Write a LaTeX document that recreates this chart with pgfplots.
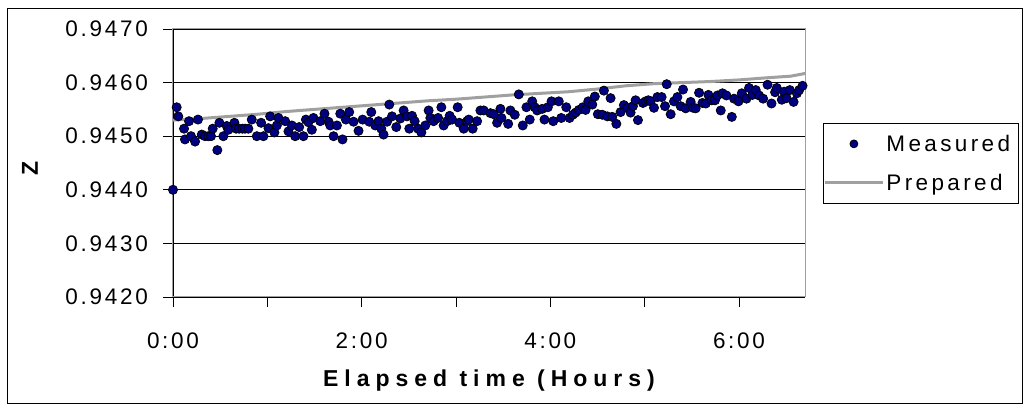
\documentclass[border=0pt]{standalone}
\usepackage{pgfplots}
\pgfplotsset{compat=1.18}
\usepackage{pgfplotstable}
\usepackage{fontspec}
\setmainfont{Liberation Sans}
\newfontfamily\tickfont[LetterSpace=12]{Liberation Sans}
\newfontfamily\legfont[LetterSpace=15]{Liberation Sans}
\newfontfamily\labfont[LetterSpace=26]{Liberation Sans}
\definecolor{navy}{RGB}{0,0,128}
\definecolor{prepgray}{RGB}{160,160,160}
\pgfplotsset{
  measleg/.style={legend image code/.code={\draw[mark repeat=2,mark phase=2,##1,mark size=4pt] plot coordinates {(0pt,0pt) (29pt,0pt) (58pt,0pt)};}},
  prepleg/.style={legend image code/.code={\draw[##1] (0pt,0pt) -- (58pt,0pt);}},
}
\pgfplotstableread{
t z
0.000 0.94400
0.039 0.94554
0.056 0.94537
0.117 0.94514
0.127 0.94494
0.170 0.94528
0.191 0.94500
0.234 0.94490
0.265 0.94531
0.305 0.94503
0.340 0.94500
0.375 0.94500
0.403 0.94500
0.421 0.94514
0.470 0.94474
0.492 0.94525
0.534 0.94500
0.570 0.94519
0.587 0.94512
0.651 0.94525
0.669 0.94514
0.701 0.94514
0.736 0.94514
0.764 0.94514
0.799 0.94514
0.835 0.94531
0.889 0.94500
0.934 0.94525
0.959 0.94500
1.012 0.94515
1.030 0.94537
1.075 0.94507
1.101 0.94520
1.118 0.94534
1.189 0.94528
1.224 0.94509
1.260 0.94520
1.295 0.94500
1.338 0.94517
1.383 0.94500
1.409 0.94531
1.436 0.94526
1.472 0.94512
1.489 0.94534
1.561 0.94528
1.606 0.94542
1.649 0.94527
1.667 0.94520
1.702 0.94500
1.738 0.94520
1.773 0.94542
1.797 0.94494
1.833 0.94531
1.868 0.94545
1.914 0.94527
1.967 0.94510
2.010 0.94531
2.081 0.94527
2.102 0.94545
2.144 0.94520
2.179 0.94528
2.208 0.94514
2.232 0.94503
2.269 0.94527
2.293 0.94559
2.322 0.94537
2.367 0.94517
2.410 0.94533
2.445 0.94548
2.481 0.94537
2.505 0.94514
2.534 0.94538
2.562 0.94528
2.598 0.94514
2.633 0.94507
2.675 0.94520
2.710 0.94548
2.728 0.94534
2.763 0.94528
2.810 0.94534
2.845 0.94554
2.869 0.94520
2.906 0.94528
2.933 0.94538
2.959 0.94531
3.018 0.94554
3.036 0.94525
3.082 0.94514
3.118 0.94528
3.135 0.94531
3.177 0.94514
3.224 0.94528
3.259 0.94548
3.294 0.94548
3.365 0.94543
3.400 0.94541
3.436 0.94525
3.471 0.94551
3.482 0.94534
3.553 0.94523
3.577 0.94548
3.623 0.94540
3.666 0.94578
3.708 0.94520
3.747 0.94554
3.782 0.94531
3.808 0.94565
3.835 0.94554
3.861 0.94548
3.914 0.94551
3.938 0.94531
3.974 0.94554
4.013 0.94565
4.031 0.94528
4.090 0.94565
4.116 0.94534
4.169 0.94554
4.204 0.94534
4.239 0.94540
4.268 0.94544
4.303 0.94549
4.345 0.94554
4.374 0.94549
4.402 0.94565
4.445 0.94559
4.472 0.94574
4.504 0.94541
4.551 0.94540
4.568 0.94585
4.604 0.94537
4.639 0.94571
4.657 0.94536
4.700 0.94523
4.745 0.94545
4.780 0.94558
4.816 0.94553
4.851 0.94544
4.876 0.94556
4.904 0.94567
4.929 0.94530
4.982 0.94562
5.011 0.94565
5.039 0.94567
5.064 0.94565
5.099 0.94553
5.135 0.94573
5.180 0.94573
5.216 0.94556
5.234 0.94597
5.276 0.94541
5.311 0.94565
5.347 0.94573
5.382 0.94556
5.407 0.94587
5.435 0.94552
5.488 0.94564
5.513 0.94553
5.541 0.94552
5.577 0.94581
5.613 0.94562
5.648 0.94561
5.676 0.94577
5.711 0.94567
5.746 0.94567
5.772 0.94576
5.807 0.94548
5.825 0.94580
5.867 0.94576
5.924 0.94536
5.948 0.94570
5.995 0.94565
6.030 0.94580
6.080 0.94570
6.107 0.94590
6.143 0.94577
6.178 0.94586
6.213 0.94576
6.256 0.94570
6.303 0.94596
6.345 0.94561
6.383 0.94582
6.401 0.94590
6.454 0.94568
6.479 0.94583
6.504 0.94571
6.539 0.94586
6.579 0.94564
6.614 0.94580
6.638 0.94586
6.674 0.94594
}\measured
\pgfplotstableread{
t z
0.00 0.94530
0.30 0.94533
0.60 0.94537
0.90 0.94541
1.20 0.94546
1.50 0.94550
1.80 0.94554
2.10 0.94558
2.40 0.94562
2.70 0.94566
3.00 0.94569
3.30 0.94573
3.60 0.94577
3.90 0.94580
4.20 0.94583
4.50 0.94588
4.80 0.94594
5.10 0.94598
5.40 0.94600
5.70 0.94602
6.00 0.94605
6.30 0.94609
6.55 0.94612
6.70 0.94617
}\prepared
\begin{document}
\begin{tikzpicture}
\useasboundingbox (-173pt,-114pt) rectangle (853pt,297pt);
\draw[black, line width=0.8pt] (-166pt,-106pt) rectangle (849pt,289pt);
\begin{axis}[
  scale only axis, width=632pt, height=268pt,
  at={(0pt,0pt)}, anchor=south west,
  xmin=0, xmax=6.70, ymin=0.942, ymax=0.947,
  axis x line*=bottom, axis y line*=left,
  axis line style={black, line width=0.8pt},
  xtick={0,1,2,3,4,5,6}, xticklabels={0:00,,2:00,,4:00,,6:00},
  ytick={0.942,0.943,0.944,0.945,0.946,0.947},
  yticklabels={0.9420,0.9430,0.9440,0.9450,0.9460,0.9470},
  tick label style={font=\tickfont\fontsize{22.5}{26}\selectfont, inner sep=0pt},
  yticklabel style={anchor=east, xshift=-15pt},
  xticklabel style={anchor=north, yshift=-26pt},
  ymajorgrids, grid style={black, line width=1.3pt},
  tick align=outside, major tick length=10pt,
  tick style={black, line width=0.8pt},
  clip=false,
  xlabel={Elapsed time (Hours)}, ylabel={Z},
  every axis x label/.style={at={(axis description cs:0.5,-0.31)}, anchor=center, font=\labfont\bfseries\fontsize{23}{27}\selectfont},
  every axis y label/.style={at={(axis description cs:-0.2263,0.48)}, anchor=center, rotate=90, font=\labfont\bfseries\fontsize{23}{27}\selectfont},
  legend cell align=left,
  legend style={at={(axis description cs:1.0285,0.649)}, anchor=north west, draw=black, line width=0.8pt, fill=white,
    font=\legfont\fontsize{22.5}{26}\selectfont, inner xsep=0pt, inner ysep=9.5pt, row sep=17pt,
    /tikz/every even column/.append style={column sep=0pt}},
]
\draw[prepgray, line width=1pt] (rel axis cs:0,0) rectangle (rel axis cs:1,1);
\addplot[only marks, mark=*, mark size=4.6pt, mark options={fill=navy, draw=black, line width=0.7pt}, measleg]
  table[x=t, y=z] {\measured};
\addlegendentry{Measured\hspace*{6pt}}
\addplot[prepgray, line width=3pt, no marks, prepleg]
  table[x=t, y=z] {\prepared};
\addlegendentry{Prepared}
\end{axis}
\end{tikzpicture}
\end{document}
